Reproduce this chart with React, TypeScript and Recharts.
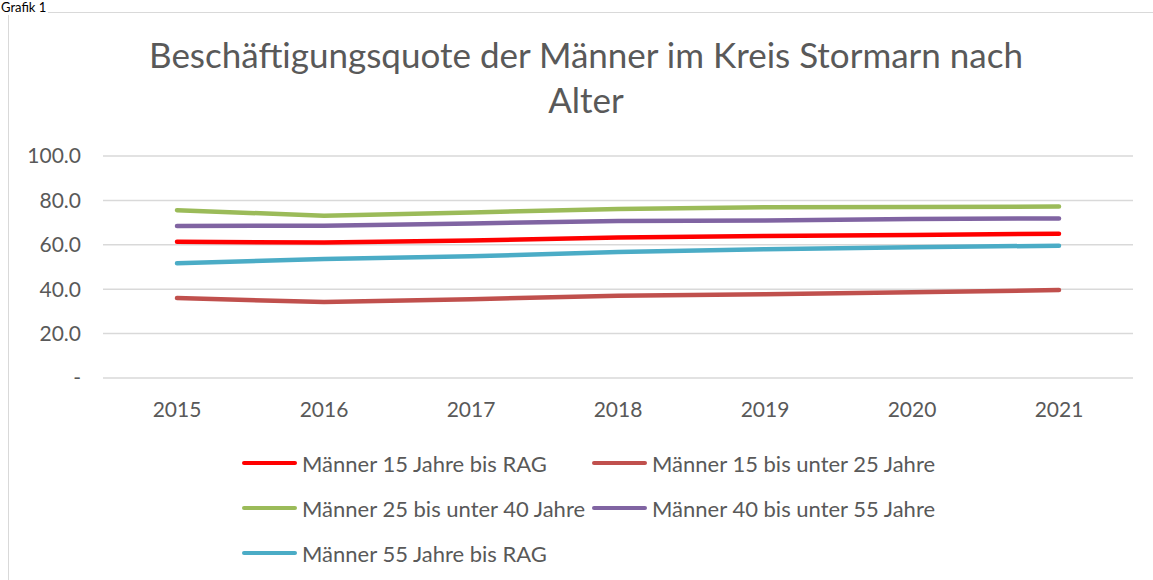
import React from 'react';
import { LineChart, Line, XAxis, YAxis, CartesianGrid } from 'recharts';

// Werte (Beschäftigungsquote in %)
const years = ['2015', '2016', '2017', '2018', '2019', '2020', '2021'];
const m15bisRAG = [61.4, 61.0, 61.9, 63.3, 64.0, 64.4, 65.0];
const m15bis25 = [36.0, 34.2, 35.5, 37.0, 37.7, 38.6, 39.6];
const m25bis40 = [75.6, 73.1, 74.6, 76.1, 76.9, 77.0, 77.2];
const m40bis55 = [68.5, 68.6, 69.6, 70.7, 71.0, 71.6, 71.9];
const m55bisRAG = [51.7, 53.6, 54.8, 56.8, 58.0, 58.9, 59.6];
const yTicks = [0, 20, 40, 60, 80, 100];

const SERIES = [
  { key: 'm15bisRAG', name: 'Männer 15 Jahre bis RAG', color: '#FF0000', values: m15bisRAG },
  { key: 'm15bis25', name: 'Männer 15 bis unter 25 Jahre', color: '#C0504D', values: m15bis25 },
  { key: 'm25bis40', name: 'Männer 25 bis unter 40 Jahre', color: '#9BBB59', values: m25bis40 },
  { key: 'm40bis55', name: 'Männer 40 bis unter 55 Jahre', color: '#8064A2', values: m40bis55 },
  { key: 'm55bisRAG', name: 'Männer 55 Jahre bis RAG', color: '#4BACC6', values: m55bisRAG },
];

const chartData = years.map((year, i) => {
  const row: { [key: string]: string | number } = { year };
  SERIES.forEach(s => { row[s.key] = s.values[i]; });
  return row;
});

const FONT = 'Lato, "Open Sans", sans-serif';
const TEXT = '#595959';

const formatY = (v: number) => (v === 0 ? '-' : v.toFixed(1));

// Legende im Excel-Stil: zwei Spalten, drei Zeilen
const LEGEND_COLS = [242, 592];
const LEGEND_ROWS = [463, 508, 553];

const App: React.FC = () => {
  return (
    <div style={{ position: 'absolute', left: 0, top: 0, width: 1153, height: 580, overflow: 'hidden', background: '#fff', fontFamily: FONT }}>
      <div style={{ position: 'absolute', left: 8, top: 12, width: 1170, height: 600, border: '1px solid #D9D9D9', boxSizing: 'border-box' }} />
      <div style={{ position: 'absolute', left: 1, top: 0, fontSize: 13, lineHeight: '15px', color: '#000', fontFamily: FONT, background: '#fff', paddingRight: 2 }}>Grafik 1</div>

      <div style={{ position: 'absolute', left: 0, top: 32, width: 1172, textAlign: 'center', fontSize: 35, lineHeight: '45px', color: TEXT }}>
        Beschäftigungsquote der Männer im Kreis Stormarn nach<br />Alter
      </div>

      <div style={{ position: 'absolute', left: 0, top: 0 }}>
        <LineChart
          width={1153}
          height={580}
          data={chartData}
          margin={{ top: 156, right: 20, bottom: 162, left: 8 }}
        >
          <CartesianGrid vertical={false} stroke="#D9D9D9" strokeWidth={1.5} />
          <XAxis
            dataKey="year"
            axisLine={false}
            tickLine={false}
            tickSize={0}
            tickMargin={24}
            height={40}
            padding={{ left: 74, right: 74 }}
            tick={{ fill: TEXT, fontSize: 21, fontFamily: FONT }}
          />
          <YAxis
            domain={[0, 100]}
            ticks={yTicks}
            tickFormatter={formatY}
            axisLine={false}
            tickLine={false}
            tickSize={0}
            tickMargin={22}
            width={95}
            tick={{ fill: TEXT, fontSize: 21, fontFamily: FONT }}
          />
          {SERIES.map(s => (
            <Line
              key={s.key}
              type="linear"
              dataKey={s.key}
              name={s.name}
              stroke={s.color}
              strokeWidth={4.5}
              strokeLinecap="round"
              dot={false}
              activeDot={false}
              isAnimationActive={false}
            />
          ))}
        </LineChart>
      </div>

      {SERIES.map((s, i) => {
        const x = LEGEND_COLS[i % 2];
        const y = LEGEND_ROWS[Math.floor(i / 2)];
        return (
          <div key={s.key} style={{ position: 'absolute', left: x, top: y - 15, height: 30, display: 'flex', alignItems: 'center' }}>
            <div style={{ width: 55, height: 4.5, borderRadius: 3, background: s.color }} />
            <span style={{ marginLeft: 5, fontSize: 22, color: TEXT, whiteSpace: 'nowrap' }}>{s.name}</span>
          </div>
        );
      })}
    </div>
  );
};

export default App;
